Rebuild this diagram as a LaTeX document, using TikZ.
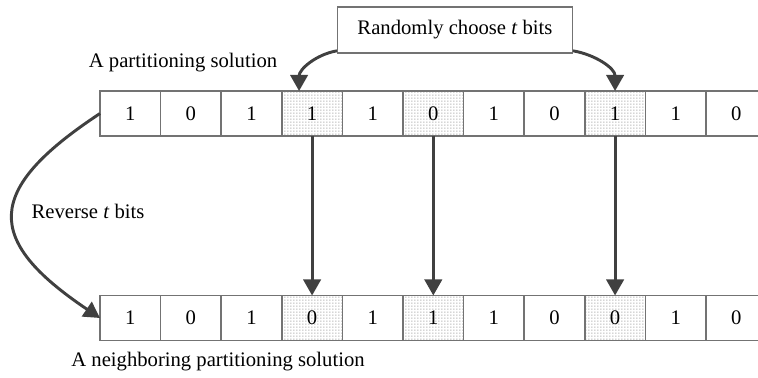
\documentclass[tikz,border=0pt]{standalone}
\usepackage{fontspec}
\setmainfont{Liberation Serif}
\usetikzlibrary{arrows.meta,patterns.meta}
\tikzdeclarepattern{
  name=bitdots,
  type=uncolored,
  bottom left={(0pt,0pt)},
  top right={(2.4pt,2.4pt)},
  tile size={(2.4pt,2.4pt)},
  code={\fill (0.3pt,0.3pt) rectangle (1.3pt,1.3pt);}
}
\begin{document}
\begin{tikzpicture}[x=0.75pt,y=0.75pt,thick,
  font=\fontsize{15.5}{18}\selectfont,
  bit/.style={draw=gray!90!black,line width=1.1pt,minimum width=45.45pt,
    minimum height=33.75pt,inner sep=0pt,outer sep=0pt},
  picked/.style={bit,pattern=bitdots,pattern color=gray!75},
  flow/.style={draw=darkgray,line width=2.2pt,-{Triangle[length=12pt,width=13pt]}}]
\def\w{60.6}
\clip (0,0) rectangle (758,378);
% partitioning solution
\foreach \b/\st [count=\i] in {1/bit,0/bit,1/bit,1/picked,1/bit,0/picked,1/bit,0/bit,1/picked,1/bit,0/bit}{
	\node[\st] (t\i) at ({100+\w*(\i-0.5)},264.5) {\b};
}
% neighboring solution
\foreach \b/\st [count=\i] in {1/bit,0/bit,1/bit,0/picked,1/bit,1/picked,1/bit,0/bit,0/picked,1/bit,0/bit}{
	\node[\st] (n\i) at ({100+\w*(\i-0.5)},60) {\b};
}
\node (top) at (183,315) {A partitioning solution};
\node (bot) at (218,16) {A neighboring partitioning solution};
\node[draw=gray!90!black,line width=1.1pt,minimum width=176pt,minimum height=34.5pt] (choose) at (455,348) {Randomly choose \textit{t} bits};
\node (rev) at (88,167) {Reverse \textit{t} bits};
\draw[flow] (choose.190) to[out=190,in=90] ([xshift=-9.75pt]t4.north);
\draw[flow] (choose.350) to[out=-10,in=90] (t9.north);
\foreach \i in {4,6,9}{
	\draw[flow] (t\i.south) -- (n\i.north);
}
\draw[flow] (t1.west) .. controls (-16,188) and (-16,138) .. (n1.west);
\end{tikzpicture}
\end{document}
